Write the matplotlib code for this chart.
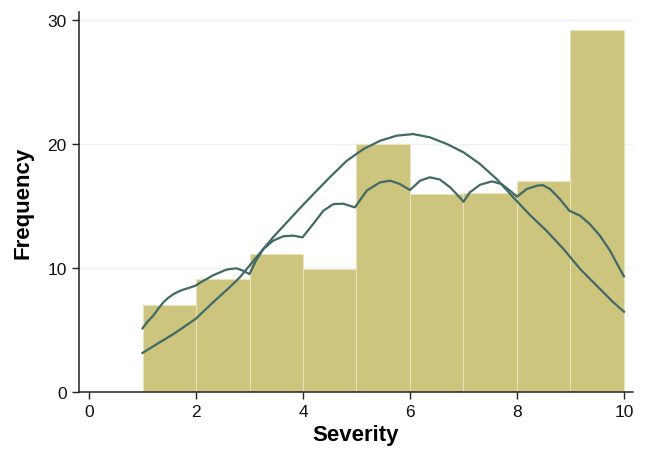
import matplotlib
matplotlib.use("Agg")
import matplotlib.pyplot as plt

# Histogram bins (left edges) and heights
bin_left = [1, 2, 3, 4, 5, 6, 7, 8, 9]
bin_width = 1
freq = [7.0, 9.1, 11.1, 9.9, 20.0, 16.0, 16.1, 17.0, 29.2]

# Kernel density overlay
kde_x = [1.0, 1.1, 1.2, 1.3, 1.39, 1.48, 1.58, 1.67, 1.76, 1.88, 1.99, 2.1, 2.2, 2.32,
         2.45, 2.55, 2.64, 2.76, 2.88, 3.0,
         3.12, 3.26, 3.44, 3.63, 3.82, 3.99, 4.19, 4.38, 4.57, 4.75, 4.97,
         5.19, 5.44, 5.63, 5.81, 6.0, 6.19, 6.37, 6.56, 6.75, 6.93, 7.0,
         7.12, 7.31, 7.53, 7.71, 7.87, 8.0, 8.18, 8.37, 8.48, 8.62, 8.8, 8.98,
         9.18, 9.36, 9.55, 9.74, 9.89, 10.0]
kde_y = [5.14, 5.7, 6.16, 6.75, 7.24, 7.6, 7.9, 8.1, 8.26, 8.42, 8.58, 8.88, 9.12, 9.42,
         9.66, 9.85, 9.93, 9.98, 9.79, 9.52,
         10.6, 11.54, 12.21, 12.57, 12.62, 12.48, 13.56, 14.63, 15.17, 15.2, 14.9,
         16.25, 16.92, 17.06, 16.79, 16.3, 17.06, 17.33, 17.15, 16.52, 15.71, 15.36,
         16.12, 16.73, 17.0, 16.79, 16.25, 15.76, 16.38, 16.65, 16.7, 16.38, 15.58, 14.63,
         14.23, 13.56, 12.62, 11.4, 10.19, 9.33]

# Normal density overlay
norm_x = [1.0, 1.27, 1.58, 1.99, 2.32, 2.64, 2.82, 3.44, 4.0, 4.29, 4.5, 4.82,
          5.13, 5.44, 5.75, 6.06, 6.37, 6.69, 7.0, 7.31, 7.62, 7.93, 8.24,
          8.55, 8.87, 9.18, 9.49, 9.8, 10.0]
norm_y = [3.15, 3.87, 4.68, 5.89, 7.24, 8.5, 9.26, 12.49, 15.1, 16.4, 17.33, 18.67,
          19.61, 20.28, 20.69, 20.82, 20.56, 20.02, 19.35, 18.4, 17.19, 15.71, 14.3,
          13.02, 11.54, 9.93, 8.58, 7.24, 6.48]

xticks = [0, 2, 4, 6, 8, 10]
yticks = [0, 10, 20, 30]

plt.rcParams['font.family'] = ['Liberation Sans', 'DejaVu Sans']

fig = plt.figure(figsize=(6.46, 4.6), dpi=100)
ax = fig.add_axes([0.1223, 0.1457, 0.980 - 0.1223, 0.9724 - 0.1457])

ax.bar(bin_left, freq, width=bin_width, align='edge', color='#cdc47e',
       edgecolor='#e8e2bd', linewidth=0.8, zorder=2)
ax.plot(norm_x, norm_y, color='#3f6a66', linewidth=1.6, zorder=3,
        solid_joinstyle='round')
ax.plot(kde_x, kde_y, color='#3f6a66', linewidth=1.6, zorder=3,
        solid_joinstyle='round')

ax.set_xlim(-0.187, 10.17)
ax.set_ylim(0, 30.7)
ax.set_xticks(xticks)
ax.set_yticks(yticks)
ax.tick_params(axis='both', direction='out', length=5, width=1, labelsize=12.5,
               color='#222222', labelcolor='#111111', pad=4)
ax.yaxis.grid(True, color='#eef2f6', linewidth=1, zorder=0)
ax.set_axisbelow(True)
for s in ['top', 'right']:
    ax.spines[s].set_visible(False)
for s in ['left', 'bottom']:
    ax.spines[s].set_linewidth(1.1)
    ax.spines[s].set_color('#222222')

ax.set_xlabel('Severity', fontsize=16, fontweight='bold', labelpad=3)
ax.set_ylabel('Frequency', fontsize=16, fontweight='bold', labelpad=10)

fig.savefig('out.png', dpi=100)
